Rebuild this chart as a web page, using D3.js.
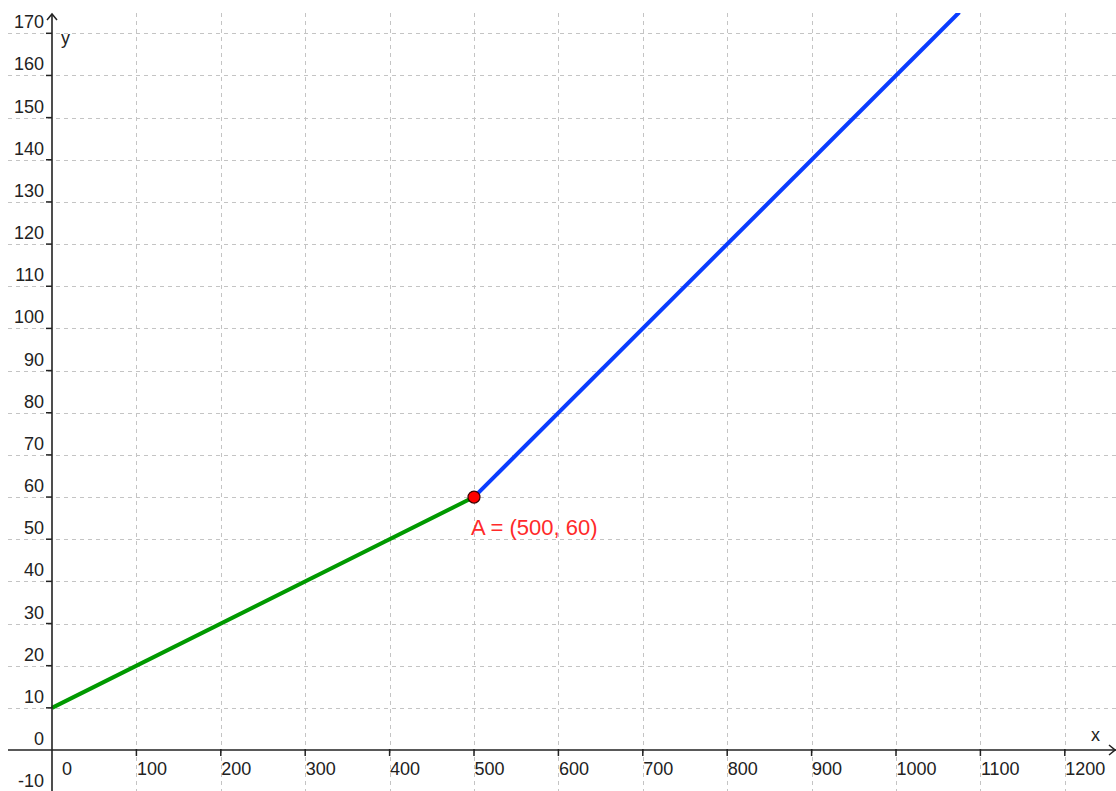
<!DOCTYPE html>
<html>
<head>
<meta charset="utf-8">
<script src="https://cdn.jsdelivr.net/npm/d3@7"></script>
<style>
  html, body { margin: 0; padding: 0; background: #fff; }
  svg { display: block; }
  text { font-family: "Liberation Sans", Arial, sans-serif; }
</style>
</head>
<body>
<svg id="chart" width="1116" height="791"></svg>
<script>
// ---- data ----
const xTicks = [0, 100, 200, 300, 400, 500, 600, 700, 800, 900, 1000, 1100, 1200];
const yTicks = [-10, 0, 10, 20, 30, 40, 50, 60, 70, 80, 90, 100, 110, 120, 130, 140, 150, 160, 170];
const greenX = [0, 500];
const greenY = [10, 60];
const blueX = [500, 1075];
const blueY = [60, 175];
const pointA = [500, 60];
const pointLabel = "A = (500, 60)";

// ---- layout ----
const W = 1116, H = 791;
const x = d3.scaleLinear().domain([0, 1200]).range([52, 52 + 1012.8]);
const y = d3.scaleLinear().domain([0, 170]).range([750, 750 - 716.7]);
const clipTop = 13, clipLeft = 8;

const svg = d3.select("#chart");
svg.append("defs").append("clipPath").attr("id", "plotclip")
  .append("rect").attr("x", clipLeft).attr("y", clipTop)
  .attr("width", W - clipLeft).attr("height", H - clipTop);

const plot = svg.append("g").attr("clip-path", "url(#plotclip)");

// grid
const gridColor = "#c4c4c4";
plot.append("g").selectAll("line").data(xTicks.filter(d => d !== 0)).join("line")
  .attr("x1", d => Math.round(x(d)) + 0.5).attr("x2", d => Math.round(x(d)) + 0.5)
  .attr("y1", clipTop).attr("y2", H)
  .attr("stroke", gridColor).attr("stroke-width", 1).attr("stroke-dasharray", "4,4");
plot.append("g").selectAll("line").data(yTicks.filter(d => d !== 0)).join("line")
  .attr("y1", d => Math.round(y(d)) + 0.5).attr("y2", d => Math.round(y(d)) + 0.5)
  .attr("x1", clipLeft).attr("x2", W)
  .attr("stroke", gridColor).attr("stroke-width", 1).attr("stroke-dasharray", "4,4");

// axes
const axisColor = "#222";
const x0 = x(0), y0 = y(0);
svg.append("line").attr("x1", clipLeft).attr("x2", W).attr("y1", y0).attr("y2", y0)
  .attr("stroke", axisColor).attr("stroke-width", 1.6);
svg.append("line").attr("x1", x0).attr("x2", x0).attr("y1", clipTop + 1).attr("y2", H)
  .attr("stroke", axisColor).attr("stroke-width", 1.6);
// arrows
svg.append("path").attr("d", `M${x0 - 5},${clipTop + 7} L${x0},${clipTop + 1} L${x0 + 5},${clipTop + 7}`)
  .attr("fill", "none").attr("stroke", axisColor).attr("stroke-width", 1.5);
svg.append("path").attr("d", `M${W - 7},${y0 - 5} L${W - 1},${y0} L${W - 7},${y0 + 5}`)
  .attr("fill", "none").attr("stroke", axisColor).attr("stroke-width", 1.5);

// ticks
svg.append("g").selectAll("line").data(xTicks.filter(d => d !== 0)).join("line")
  .attr("x1", d => x(d)).attr("x2", d => x(d)).attr("y1", y0 - 1).attr("y2", y0 + 6)
  .attr("stroke", axisColor).attr("stroke-width", 1.5);
svg.append("g").selectAll("line").data(yTicks.filter(d => d !== 0)).join("line")
  .attr("y1", d => y(d)).attr("y2", d => y(d)).attr("x1", x0 - 6).attr("x2", x0)
  .attr("stroke", axisColor).attr("stroke-width", 1.5);

// tick labels
svg.append("g").selectAll("text").data(xTicks).join("text")
  .attr("x", d => d === 0 ? x(d) + 10 : x(d) + 0.5).attr("y", y0 + 25)
  .attr("font-size", 18).attr("fill", "#222")
  .text(d => d);
svg.append("g").selectAll("text").data(yTicks).join("text")
  .attr("x", x0 - 8).attr("y", d => y(d) - 5)
  .attr("text-anchor", "end").attr("font-size", 18).attr("fill", "#222")
  .text(d => d);

// axis names
svg.append("text").attr("x", 1091).attr("y", 741).attr("font-size", 18).attr("fill", "#222").text("x");
svg.append("text").attr("x", 61).attr("y", 44).attr("font-size", 18).attr("fill", "#222").text("y");

// lines
const line = d3.line().x(d => x(d[0])).y(d => y(d[1]));
plot.append("path").datum(greenX.map((v, i) => [v, greenY[i]]))
  .attr("d", line).attr("fill", "none").attr("stroke", "#009900").attr("stroke-width", 4)
  .attr("stroke-linecap", "butt");
plot.append("path").datum(blueX.map((v, i) => [v, blueY[i]]))
  .attr("d", line).attr("fill", "none").attr("stroke", "#0a3cff").attr("stroke-width", 4)
  .attr("stroke-linecap", "butt");

// point
svg.append("circle").attr("cx", x(pointA[0])).attr("cy", y(pointA[1])).attr("r", 6)
  .attr("fill", "#ff0000").attr("stroke", "#3a0000").attr("stroke-width", 1.2);
svg.append("text").attr("x", x(pointA[0]) - 3).attr("y", y(pointA[1]) + 38)
  .attr("font-size", 22).attr("fill", "#ff2a2a")
  .text(pointLabel);
</script>
</body>
</html>
